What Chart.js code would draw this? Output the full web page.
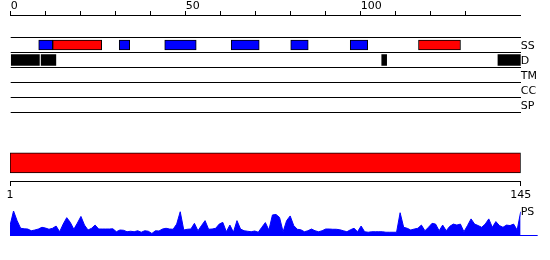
<!DOCTYPE html>
<html>
<head>
<meta charset="utf-8">
<script src="https://cdn.jsdelivr.net/npm/chart.js@4"></script>
<style>
body { margin: 0; background: #fff; }
#wrap { position: relative; width: 550px; height: 260px; }
canvas { position: absolute; left: 0; }
</style>
</head>
<body>
<div id="wrap">
  <canvas id="tracks" width="550" height="130" style="top:0"></canvas>
  <canvas id="seq" width="550" height="70" style="top:140px"></canvas>
  <canvas id="ps" width="550" height="60" style="top:200px"></canvas>
</div>
<script>
// sequence + feature tracks
const seqLength = 145;
const axisMax = 145.7;
const trackLabels = ['SS', 'D', 'TM', 'CC', 'SP'];
const helixSegments = [[12, 26], [116.5, 128.5]];
const strandSegments = [[8, 12], [31, 34], [44, 53], [63, 71], [80, 85], [97, 102]];
const disorderSegments = [[0, 8.2], [8.7, 12.9], [106, 107.4], [139.2, 145.7]];

// PS profile, one value per residue (percent of max)
const psScores = [
  41, 100, 61, 30, 28, 27, 20, 23, 27, 34,
  31, 26, 30, 39, 16, 47, 73, 54, 26, 51,
  78, 43, 23, 30, 43, 27, 27, 27, 27, 28,
  16, 23, 22, 16, 18, 16, 20, 14, 20, 18,
  9, 20, 19, 27, 30, 27, 26, 47, 97, 23,
  26, 27, 50, 20, 41, 61, 26, 27, 30, 47,
  54, 16, 43, 14, 61, 27, 20, 18, 16, 19,
  14, 34, 53, 23, 84, 86, 74, 16, 61, 80,
  41, 26, 24, 16, 20, 27, 20, 16, 20, 27,
  27, 26, 26, 24, 20, 16, 24, 30, 16, 39,
  16, 14, 16, 16, 16, 16, 14, 14, 14, 14,
  93, 34, 30, 23, 27, 30, 43, 20, 34, 50,
  47, 20, 43, 20, 38, 47, 43, 47, 16, 41,
  68, 47, 41, 34, 47, 68, 34, 57, 41, 34,
  43, 41, 47, 23, 97
];

Chart.defaults.font.family = 'DejaVu Sans';
Chart.defaults.font.size = 11;
Chart.defaults.color = '#000';
Chart.defaults.animation = false;
Chart.defaults.responsive = false;
Chart.defaults.devicePixelRatio = 1;
Chart.defaults.plugins.legend.display = false;
Chart.defaults.plugins.tooltip.enabled = false;

const toBars = (segs, track) => segs.map((s) => ({ x: s, y: track }));

const tracksChart = new Chart(document.getElementById('tracks'), {
    type: 'bar',
    data: {
        datasets: [
            {
                label: 'helix',
                data: toBars(helixSegments, 1),
                backgroundColor: '#ff0000',
                borderColor: '#000',
                borderWidth: 1,
                barThickness: 10,
            },
            {
                label: 'strand',
                data: toBars(strandSegments, 1),
                backgroundColor: '#0000ff',
                borderColor: '#000',
                borderWidth: 1,
                barThickness: 10,
            },
            {
                label: 'disorder',
                data: toBars(disorderSegments, 2),
                backgroundColor: '#000',
                borderWidth: 0,
                barThickness: 11,
            },
        ],
    },
    options: {
        indexAxis: 'y',
        layout: { padding: { left: 10.7, right: 0, top: 0, bottom: 10 } },
        datasets: { bar: { grouped: false, borderSkipped: false } },
        scales: {
            x: {
                type: 'linear',
                position: 'top',
                min: 0,
                max: axisMax,
                afterBuildTicks: (scale) => {
                    scale.ticks = scale.ticks.filter((t) => t.value % 10 === 0);
                },
                afterFit: (scale) => { scale.height = 15; },
                grid: { drawOnChartArea: false, tickLength: 4, color: '#000' },
                border: { color: '#000' },
                ticks: {
                    stepSize: 10,
                    autoSkip: false,
                    maxRotation: 0,
                    align: 'start',
                    padding: -2,
                    callback: (v) => (v % 50 === 0 ? v : ''),
                },
            },
            y: {
                type: 'linear',
                position: 'right',
                reverse: true,
                min: -1,
                max: 6,
                offset: false,
                afterBuildTicks: (scale) => {
                    scale.ticks = trackLabels.map((_, i) => ({ value: i + 1 }));
                },
                afterFit: (scale) => { scale.width = 29.3; },
                grid: { color: '#000', drawTicks: false },
                border: { display: false },
                ticks: {
                    padding: 0,
                    labelOffset: 1,
                    callback: (v) => trackLabels[v - 1],
                },
            },
        },
    },
});

const seqChart = new Chart(document.getElementById('seq'), {
    type: 'bar',
    data: {
        datasets: [
            {
                label: 'sequence',
                data: [{ x: [1, seqLength], y: 1 }],
                backgroundColor: '#ff0000',
                borderColor: '#000',
                borderWidth: 1,
                borderSkipped: false,
                barThickness: 20,
            },
        ],
    },
    options: {
        indexAxis: 'y',
        layout: { padding: { left: 10, right: 29.3, top: 10, bottom: 0 } },
        scales: {
            x: {
                type: 'linear',
                min: 1,
                max: seqLength,
                afterBuildTicks: (scale) => {
                    scale.ticks = [{ value: 1 }, { value: seqLength }];
                },
                afterFit: (scale) => { scale.height = 29; },
                grid: { drawOnChartArea: false, tickLength: 5, color: '#000' },
                border: { color: '#000' },
                ticks: { autoSkip: false, maxRotation: 0, padding: 3 },
            },
            y: { type: 'linear', min: 0, max: 1.5, display: false },
        },
    },
});

const psChart = new Chart(document.getElementById('ps'), {
    type: 'line',
    data: {
        datasets: [
            {
                label: 'PS',
                data: psScores.map((v, i) => ({ x: i + 1, y: v })),
                borderColor: '#0000ff',
                backgroundColor: '#0000ff',
                borderWidth: 1,
                fill: 'origin',
                pointRadius: 0,
                tension: 0,
            },
        ],
    },
    options: {
        layout: { padding: { left: 10, right: 0, top: 11, bottom: 0 } },
        scales: {
            x: {
                type: 'linear',
                min: 1,
                max: seqLength,
                afterFit: (scale) => { scale.height = 24.3; },
                ticks: { display: false },
                grid: { display: false, drawTicks: false },
                border: { color: '#0000ff' },
            },
            y: {
                position: 'right',
                min: 0,
                max: 100,
                afterBuildTicks: (scale) => { scale.ticks = [{ value: 0 }, { value: 100 }]; },
                afterFit: (scale) => { scale.width = 29.3; },
                // the tick at 0 draws the baseline stub past the last residue
                grid: {
                    drawOnChartArea: false,
                    tickLength: 17,
                    color: (ctx) => (ctx.tick && ctx.tick.value === 0 ? '#0000ff' : 'rgba(0,0,0,0)'),
                },
                border: { display: false },
                ticks: { padding: -17, labelOffset: 1, callback: (v) => (v === 100 ? 'PS' : '') },
            },
        },
    },
});
</script>
</body>
</html>
